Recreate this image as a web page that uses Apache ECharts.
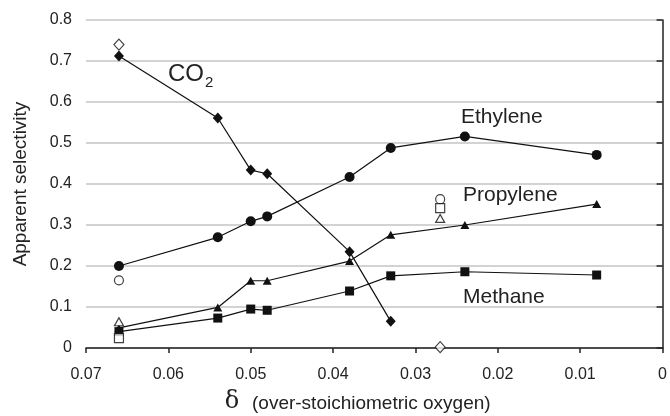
<!DOCTYPE html>
<html>
<head>
<meta charset="utf-8">
<script src="https://cdn.jsdelivr.net/npm/echarts@6/dist/echarts.min.js"></script>
<style>
  html, body { margin: 0; padding: 0; background: #fff; }
  #chart { width: 670px; height: 416px; }
</style>
</head>
<body>
<div id="chart"></div>
<script>
// Over-stoichiometric oxygen (delta) for each measured run
const deltaMain = [0.066, 0.054, 0.050, 0.048, 0.038, 0.033, 0.024, 0.008];
const deltaCO2 = [0.066, 0.054, 0.050, 0.048, 0.038, 0.033];
// Apparent selectivities (filled markers, connected)
const co2 = [0.712, 0.561, 0.434, 0.425, 0.235, 0.065];
const ethylene = [0.200, 0.270, 0.309, 0.321, 0.417, 0.488, 0.516, 0.471];
const propylene = [0.049, 0.099, 0.164, 0.164, 0.212, 0.276, 0.300, 0.351];
const methane = [0.040, 0.073, 0.095, 0.092, 0.139, 0.176, 0.186, 0.178];
// Reference runs (open markers, not connected)
const deltaOpen = [0.066, 0.027];
const co2Open = [0.740, 0.002];
const ethyleneOpen = [0.165, 0.363];
const propyleneOpen = [0.064, 0.316];
const methaneOpen = [0.024, 0.341];
// Axis ticks
const xTicks = [0, 0.01, 0.02, 0.03, 0.04, 0.05, 0.06, 0.07];
const yTicks = [0, 0.1, 0.2, 0.3, 0.4, 0.5, 0.6, 0.7, 0.8];

const FONT = 'Liberation Sans, Arial, sans-serif';
const pairs = (xs, ys) => xs.map((x, i) => [x, ys[i]]);

function lineSeries(name, xs, ys, symbol, size) {
  return {
    name, type: 'line', data: pairs(xs, ys),
    symbol, symbolSize: size, showAllSymbol: true,
    lineStyle: { color: '#111', width: 1.2 },
    itemStyle: { color: '#111', borderColor: '#111', borderWidth: 0 },
    emphasis: { disabled: true }, animation: false, z: 3
  };
}
function openSeries(name, xs, ys, symbol, size) {
  return {
    name, type: 'scatter', data: pairs(xs, ys),
    symbol, symbolSize: size,
    itemStyle: { color: '#fff', borderColor: '#111', borderWidth: 1.2 },
    emphasis: { disabled: true }, animation: false, z: 4
  };
}

const chart = echarts.init(document.getElementById('chart'), null, { renderer: 'canvas' });
chart.setOption({
  backgroundColor: '#fff',
  animation: false,
  grid: { left: 86, right: 5, top: 20, bottom: 68, containLabel: false },
  xAxis: {
    type: 'value', inverse: true,
    min: xTicks[0], max: xTicks[xTicks.length - 1], interval: 0.01,
    axisLine: { show: true, onZero: false, lineStyle: { color: '#222', width: 1.5 } },
    axisTick: { show: true, inside: false, length: 5, lineStyle: { color: '#222', width: 1.5 } },
    axisLabel: {
      margin: 19, color: '#222', fontFamily: FONT, fontSize: 16,
      formatter: v => { const i = xTicks.findIndex(t => Math.abs(t - v) < 1e-9); return i < 0 ? '' : String(xTicks[i]); }
    },
    splitLine: { show: false }
  },
  yAxis: {
    type: 'value',
    min: yTicks[0], max: yTicks[yTicks.length - 1], interval: 0.1,
    name: 'Apparent selectivity', nameLocation: 'middle', nameGap: 56,
    nameTextStyle: { color: '#222', fontFamily: FONT, fontSize: 19 },
    axisLine: { show: true, lineStyle: { color: '#222', width: 1.5 } },
    axisTick: { show: true, inside: false, length: 6, lineStyle: { color: '#222', width: 1.5 } },
    axisLabel: {
      margin: 14, color: '#222', fontFamily: FONT, fontSize: 16,
      formatter: v => { const i = yTicks.findIndex(t => Math.abs(t - v) < 1e-9); return i < 0 ? '' : String(yTicks[i]); }
    },
    splitLine: { show: true, lineStyle: { color: '#c4c4c4', width: 1.5 } }
  },
  graphic: [
    { type: 'text', x: 168, y: 62, style: { text: 'CO', font: '24px ' + FONT, fill: '#222', align: 'left', verticalAlign: 'top' } },
    { type: 'text', x: 205, y: 75, style: { text: '2', font: '15px ' + FONT, fill: '#222', align: 'left', verticalAlign: 'top' } },
    { type: 'text', x: 461, y: 107, style: { text: 'Ethylene', font: '21px ' + FONT, fill: '#222', align: 'left', verticalAlign: 'top' } },
    { type: 'text', x: 463, y: 185, style: { text: 'Propylene', font: '21px ' + FONT, fill: '#222', align: 'left', verticalAlign: 'top' } },
    { type: 'text', x: 463, y: 287, style: { text: 'Methane', font: '21px ' + FONT, fill: '#222', align: 'left', verticalAlign: 'top' } },
    { type: 'text', x: 232, y: 402, style: { text: 'δ', font: '24px DejaVu Serif, serif', fill: '#222', align: 'center', verticalAlign: 'middle' } },
    { type: 'text', x: 252, y: 404, style: { text: '(over-stoichiometric oxygen)', font: '19px ' + FONT, fill: '#222', align: 'left', verticalAlign: 'middle' } }
  ],
  series: [
    lineSeries('CO2', deltaCO2, co2, 'diamond', [10, 11]),
    lineSeries('Ethylene', deltaMain, ethylene, 'circle', 10),
    lineSeries('Propylene', deltaMain, propylene, 'triangle', [9, 8]),
    lineSeries('Methane', deltaMain, methane, 'rect', 9),
    openSeries('CO2 reference', deltaOpen, co2Open, 'diamond', [10, 11]),
    openSeries('Ethylene reference', deltaOpen, ethyleneOpen, 'circle', 9),
    openSeries('Propylene reference', deltaOpen, propyleneOpen, 'triangle', [9, 8]),
    openSeries('Methane reference', deltaOpen, methaneOpen, 'rect', 9)
  ]
});
</script>
</body>
</html>
